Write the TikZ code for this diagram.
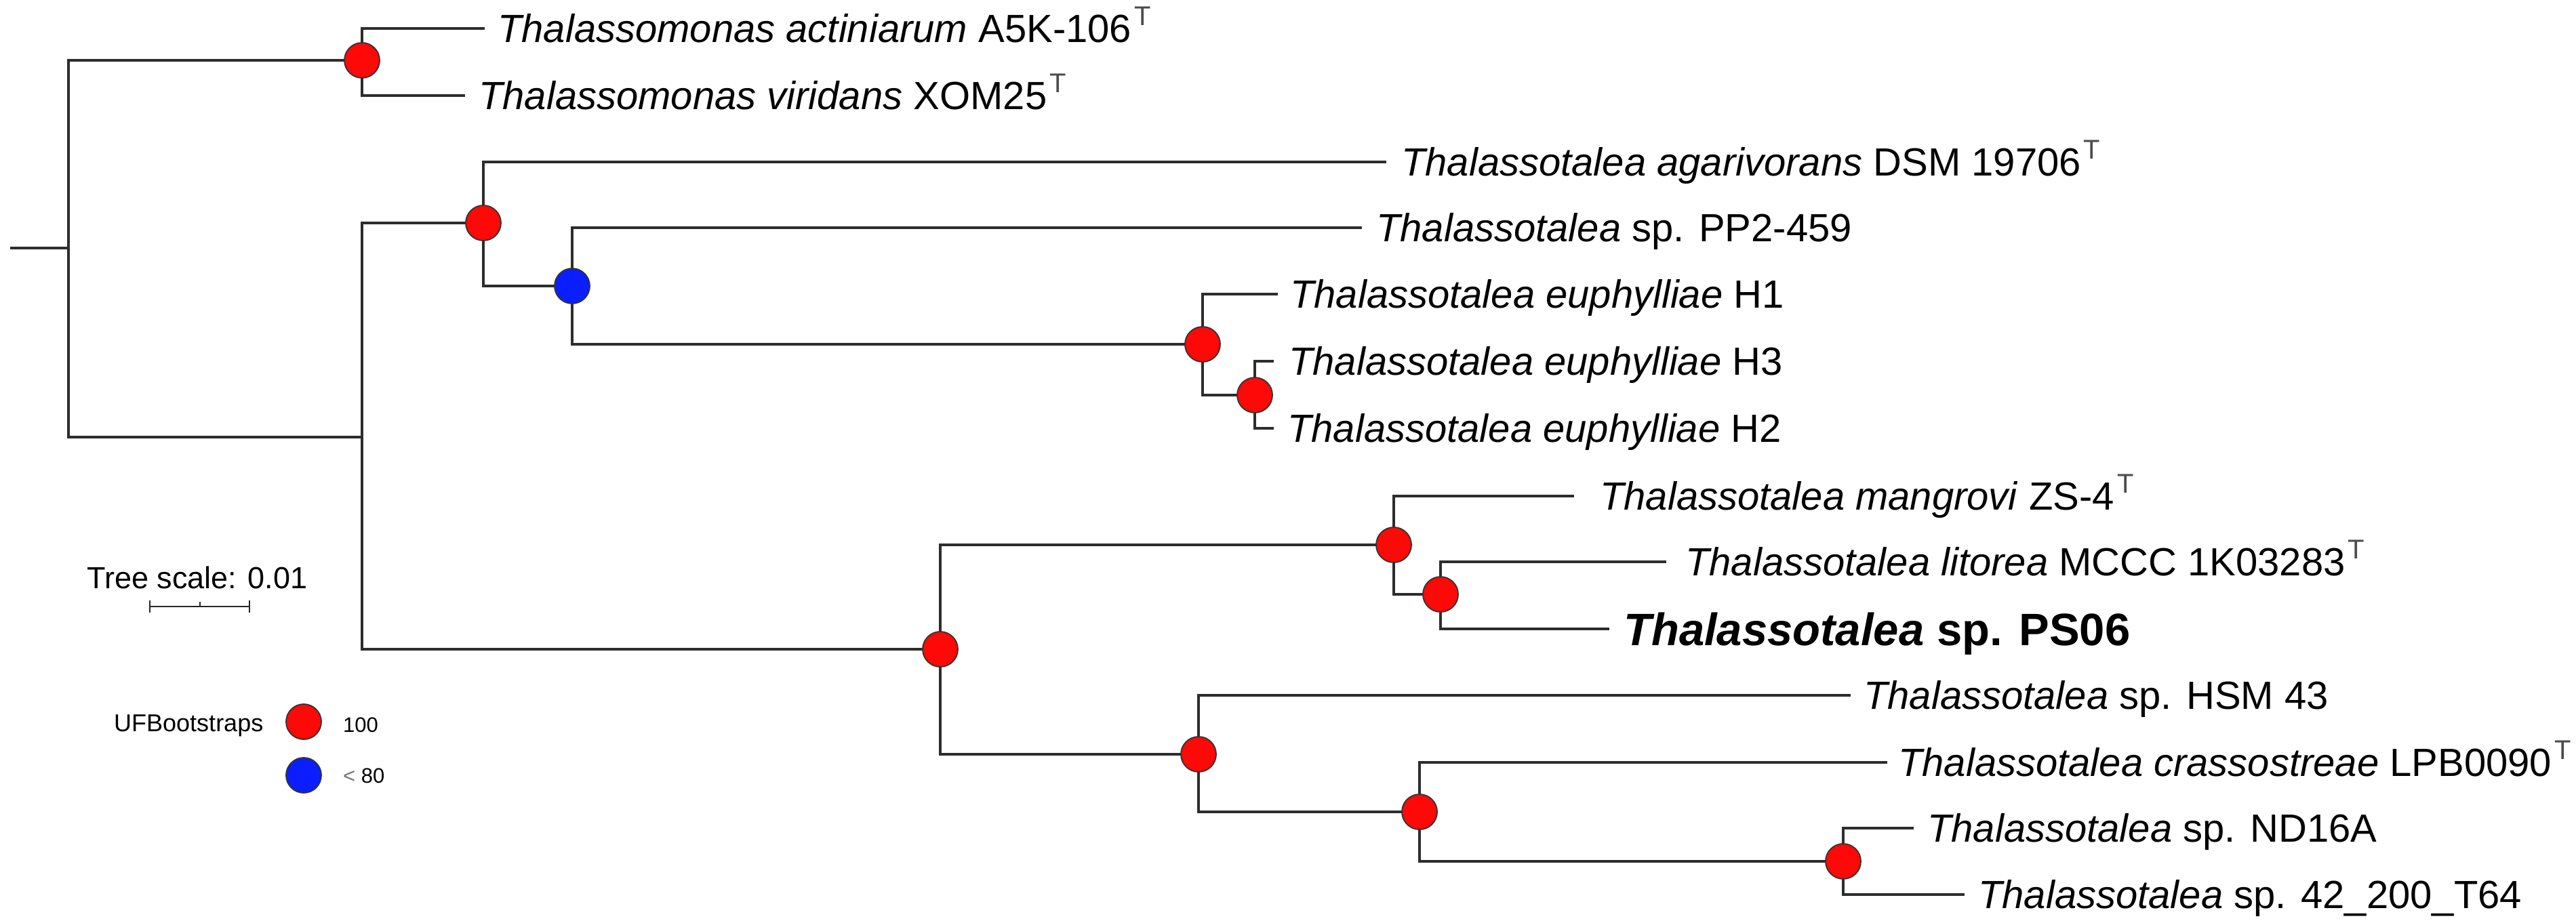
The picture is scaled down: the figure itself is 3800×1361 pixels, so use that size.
\documentclass[tikz,border=0pt]{standalone}
\usepackage{fontspec}
\setmainfont{Liberation Sans}
\definecolor{nodered}{RGB}{255,8,8}
\definecolor{nodeblue}{RGB}{10,30,255}
\definecolor{branchcol}{RGB}{45,45,45}
\newcommand{\typestrain}{\hspace{4pt}\raisebox{25pt}{\fontsize{40}{40}\selectfont\color{black!70}T}}
\begin{document}
\begin{tikzpicture}[x=1pt,y=-1pt,
  br/.style={draw=branchcol,line width=3.2pt},
  boot/.style={circle,draw=black!80,line width=1.8pt,minimum size=52pt,inner sep=0pt,fill=nodered},
  lowboot/.style={boot,fill=nodeblue},
  leaf/.style={anchor=base west,inner sep=0pt,font=\fontsize{58}{58}\selectfont},
  focal/.style={anchor=base west,inner sep=0pt,font=\fontsize{67}{67}\selectfont\bfseries},
  legtext/.style={anchor=base west,inner sep=0pt}
]
\fill[white] (0,0) rectangle (3800,1361);
\useasboundingbox (0,0) rectangle (3800,1361);

% internal nodes
\coordinate (root) at (15,366);
\coordinate (r) at (101,366);
\coordinate (n1) at (534,89);
\coordinate (n2) at (534,645);
\coordinate (n3) at (713,329);
\coordinate (n4) at (844,422);
\coordinate (n5) at (1774,508);
\coordinate (n6) at (1851,583);
\coordinate (n7) at (1387,958);
\coordinate (n8) at (2056,804);
\coordinate (n9) at (2125,877);
\coordinate (n10) at (1768,1113);
\coordinate (n11) at (2094,1198);
\coordinate (n12) at (2719,1271);
% tips
\coordinate (t1) at (715,42);
\coordinate (t2) at (686,141);
\coordinate (t3) at (2045,239);
\coordinate (t4) at (2009,336);
\coordinate (t5) at (1885,434);
\coordinate (t6) at (1879,533);
\coordinate (t7) at (1879,632);
\coordinate (t8) at (2322,732);
\coordinate (t9) at (2458,829);
\coordinate (t10) at (2374,928);
\coordinate (t11) at (2730,1026);
\coordinate (t12) at (2784,1125);
\coordinate (t13) at (2823,1222);
\coordinate (t14) at (2898,1320);

% branches
\draw[br] (root) -- (r);
\draw[br] (r) |- (n1);
\draw[br] (r) |- (n2);
\draw[br] (n1) |- (t1);
\draw[br] (n1) |- (t2);
\draw[br] (n2) |- (n3);
\draw[br] (n2) |- (n7);
\draw[br] (n3) |- (t3);
\draw[br] (n3) |- (n4);
\draw[br] (n4) |- (t4);
\draw[br] (n4) |- (n5);
\draw[br] (n5) |- (t5);
\draw[br] (n5) |- (n6);
\draw[br] (n6) |- (t6);
\draw[br] (n6) |- (t7);
\draw[br] (n7) |- (n8);
\draw[br] (n7) |- (n10);
\draw[br] (n8) |- (t8);
\draw[br] (n8) |- (n9);
\draw[br] (n9) |- (t9);
\draw[br] (n9) |- (t10);
\draw[br] (n10) |- (t11);
\draw[br] (n10) |- (n11);
\draw[br] (n11) |- (t12);
\draw[br] (n11) |- (n12);
\draw[br] (n12) |- (t13);
\draw[br] (n12) |- (t14);

% bootstrap markers
\node[boot] (b1) at (n1) {};
\node[boot] (b3) at (n3) {};
\node[lowboot] (b4) at (n4) {};
\node[boot] (b5) at (n5) {};
\node[boot] (b6) at (n6) {};
\node[boot] (b7) at (n7) {};
\node[boot] (b8) at (n8) {};
\node[boot] (b9) at (n9) {};
\node[boot] (b10) at (n10) {};
\node[boot] (b11) at (n11) {};
\node[boot] (b12) at (n12) {};

% leaf labels
\node[leaf] (l1) at (734,62) {\textit{Thalassomonas actiniarum} A5K-106\typestrain};
\node[leaf] (l2) at (706,161) {\textit{Thalassomonas viridans} XOM25\typestrain};
\node[leaf] (l3) at (2067,259) {\textit{Thalassotalea agarivorans} DSM 19706\typestrain};
\node[leaf] (l4) at (2030,356) {\textit{Thalassotalea} sp. PP2-459};
\node[leaf] (l5) at (1903,454) {\textit{Thalassotalea euphylliae} H1};
\node[leaf] (l6) at (1901,553) {\textit{Thalassotalea euphylliae} H3};
\node[leaf] (l7) at (1899,652) {\textit{Thalassotalea euphylliae} H2};
\node[leaf] (l8) at (2360,752) {\textit{Thalassotalea mangrovi} ZS-4\typestrain};
\node[leaf] (l9) at (2486,849) {\textit{Thalassotalea litorea} MCCC 1K03283\typestrain};
\node[focal] (l10) at (2395,952) {\textit{Thalassotalea} sp. PS06};
\node[leaf] (l11) at (2749,1046) {\textit{Thalassotalea} sp. HSM 43};
\node[leaf] (l12) at (2800,1145) {\textit{Thalassotalea crassostreae} LPB0090\typestrain};
\node[leaf] (l13) at (2843,1242) {\textit{Thalassotalea} sp. ND16A};
\node[leaf] (l14) at (2918,1340) {\textit{Thalassotalea} sp. 42\_200\_T64};

% tree scale
\node[legtext,font=\fontsize{45}{45}\selectfont] (ts) at (128,868) {Tree scale: 0.01};
\coordinate (sb1) at (221,895);
\coordinate (sb2) at (368,895);
\coordinate (sbm) at (295,895);
\draw[line width=2.5pt,draw=black!85] (sb1) -- (sb2);
\draw[line width=2.5pt,draw=black!85] ([yshift=9pt]sb1) -- ([yshift=-9pt]sb1);
\draw[line width=2.5pt,draw=black!85] ([yshift=9pt]sb2) -- ([yshift=-9pt]sb2);
\draw[line width=2pt,draw=black!85] (sbm) -- ([yshift=7pt]sbm);

% legend
\node[legtext,font=\fontsize{36}{36}\selectfont] (uf) at (168,1079) {UFBootstraps};
\node[boot] (k1) at (448,1065) {};
\node[legtext,font=\fontsize{31}{31}\selectfont] (k1t) at (506,1080) {100};
\node[lowboot] (k2) at (448,1144) {};
\node[legtext,font=\fontsize{31}{31}\selectfont] (k2t) at (506,1155) {{\color{black!55}<} 80};
\end{tikzpicture}
\end{document}
